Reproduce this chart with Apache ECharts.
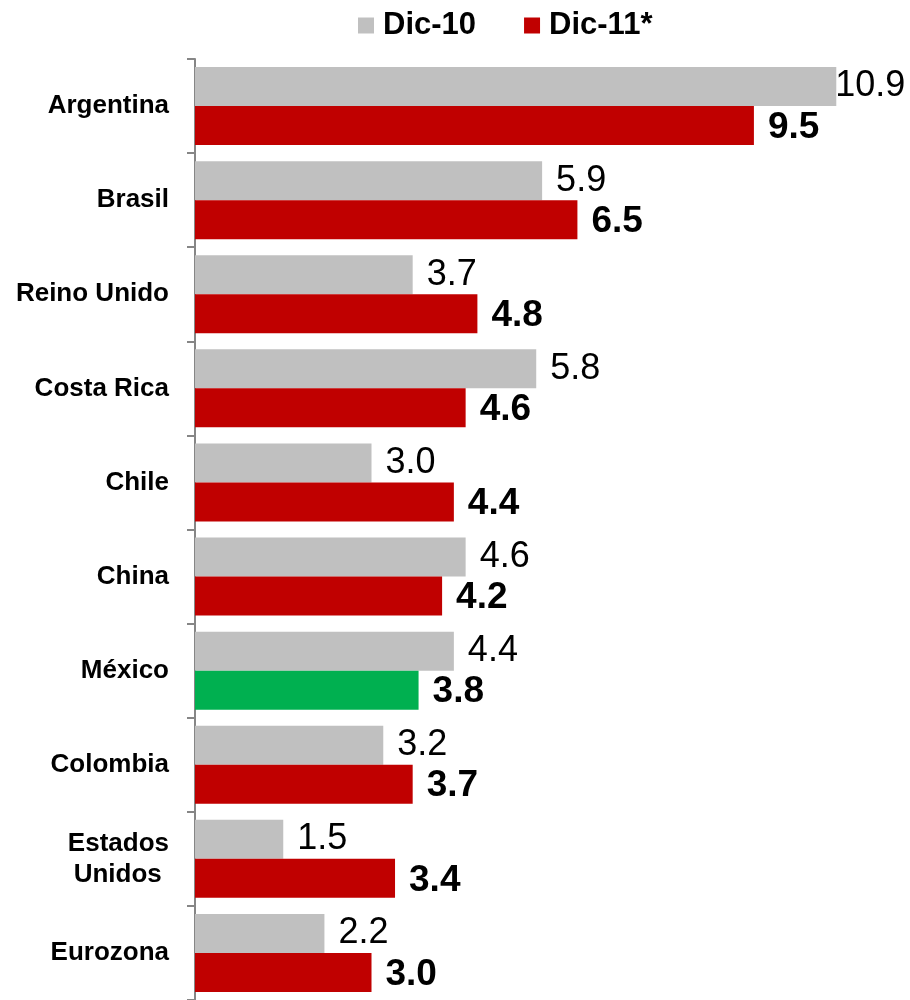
<!DOCTYPE html>
<html>
<head>
<meta charset="utf-8">
<script src="https://cdn.jsdelivr.net/npm/echarts@6/dist/echarts.min.js"></script>
<style>
  html, body { margin: 0; padding: 0; background: #fff; }
  #chart { width: 910px; height: 1000px; }
</style>
</head>
<body>
<div id="chart"></div>
<script>
// Countries, top to bottom
const categories = ['Argentina', 'Brasil', 'Reino Unido', 'Costa Rica', 'Chile', 'China', 'México', 'Colombia', 'Estados\nUnidos ', 'Eurozona'];
const seriesNames = ['Dic-10', 'Dic-11*'];
const valuesDic10 = [10.9, 5.9, 3.7, 5.8, 3.0, 4.6, 4.4, 3.2, 1.5, 2.2];
const valuesDic11 = [9.5, 6.5, 4.8, 4.6, 4.4, 4.2, 3.8, 3.7, 3.4, 3.0];
const highlightCategory = 'México';

const FONT = 'Liberation Sans, Arial, sans-serif';
const GREY = '#C0C0C0';
const RED = '#C00000';
const GREEN = '#00B050';

const fmt = p => p.value.toFixed(1);

const dic10Data = valuesDic10.map(v => {
  const item = { value: v };
  // the widest bar keeps its label inside the plot edge
  if (v === Math.max(...valuesDic10)) item.label = { distance: -1 };
  return item;
});
const dic11Data = valuesDic11.map((v, i) => {
  const item = { value: v };
  if (categories[i] === highlightCategory) item.itemStyle = { color: GREEN };
  return item;
});

const chart = echarts.init(document.getElementById('chart'), null, { renderer: 'canvas' });
chart.setOption({
  animation: false,
  backgroundColor: '#fff',
  legend: {
    left: 353,
    top: 5,
    itemWidth: 16,
    itemHeight: 16,
    itemGap: 48,
    icon: 'rect',
    textStyle: { fontFamily: FONT, fontSize: 31, fontWeight: 'bold', color: '#000', padding: [0, 0, 0, 4] },
    data: seriesNames
  },
  grid: { left: 195, top: 59, width: 706, height: 946, containLabel: false },
  xAxis: {
    type: 'value',
    min: 0,
    max: 12,
    show: false
  },
  yAxis: {
    type: 'category',
    inverse: true,
    data: categories,
    axisLine: { show: true, lineStyle: { color: '#868686', width: 2 } },
    axisTick: { show: true, length: 8, lineStyle: { color: '#868686', width: 2 } },
    axisLabel: {
      margin: 26,
      fontFamily: FONT,
      fontSize: 26,
      fontWeight: 'bold',
      color: '#000',
      lineHeight: 31,
      align: 'right'
    },
    splitLine: { show: false }
  },
  series: [
    {
      name: seriesNames[0],
      type: 'bar',
      data: dic10Data,
      barWidth: 39,
      barGap: '0%',
      itemStyle: { color: GREY },
      label: {
        show: true,
        position: 'right',
        distance: 14,
        formatter: fmt,
        fontFamily: FONT,
        fontSize: 36,
        color: '#000'
      }
    },
    {
      name: seriesNames[1],
      type: 'bar',
      data: dic11Data,
      barWidth: 39,
      barGap: '0%',
      itemStyle: { color: RED },
      label: {
        show: true,
        position: 'right',
        distance: 14,
        formatter: fmt,
        fontFamily: FONT,
        fontSize: 37,
        fontWeight: 'bold',
        color: '#000',
        offset: [0, 2]
      }
    }
  ]
});
</script>
</body>
</html>
